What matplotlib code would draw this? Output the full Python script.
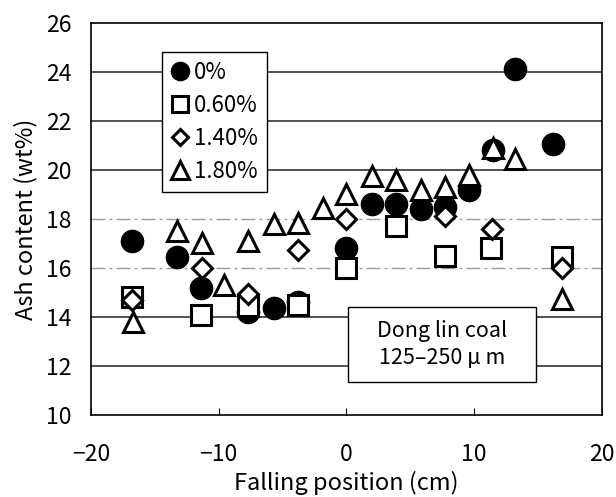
import matplotlib

matplotlib.use("Agg")
import matplotlib.pyplot as plt  # noqa: E402
from matplotlib.patches import Rectangle  # noqa: E402

plt.rcParams["font.family"] = ["Noto Sans CJK JP", "DejaVu Sans"]

# Ash content of the collected fractions, by falling position and additive dose
x_0 = [-16.8, -13.3, -11.4, -7.7, -5.7, -3.8, 0.0, 2.0, 3.9, 5.8, 7.7, 9.6, 11.5, 13.2, 16.2]
y_0 = [17.1, 16.45, 15.2, 14.2, 14.35, 14.6, 16.8, 18.6, 18.6, 18.4, 18.5, 19.2, 20.8, 24.1, 21.05]

x_060 = [-16.8, -11.4, -7.7, -3.8, 0.0, 3.9, 7.7, 11.3, 16.9]
y_060 = [14.8, 14.1, 14.45, 14.5, 16.0, 17.7, 16.5, 16.8, 16.45]

x_140 = [-16.8, -11.3, -7.7, -3.8, 0.0, 7.7, 11.4, 16.9]
y_140 = [14.7, 16.0, 14.95, 16.75, 18.0, 18.1, 17.6, 16.0]

x_180 = [-16.7, -13.3, -11.3, -9.6, -7.7, -5.7, -3.8, -1.8, 0.0, 2.0, 3.9, 5.8, 7.7, 9.6, 11.5, 13.2, 16.9]
y_180 = [13.8, 17.5, 17.0, 15.3, 17.1, 17.8, 17.85, 18.45, 19.0, 19.75, 19.6, 19.2, 19.3, 19.8, 20.9, 20.45, 14.75]

labels = ["0%", "0.60%", "1.40%", "1.80%"]
y_ticks = [10, 12, 14, 16, 18, 20, 22, 24, 26]
x_ticks = [-20, -10, 0, 10, 20]

fig = plt.figure(figsize=(6.16, 4.97), dpi=100)
ax = fig.add_axes([0.1477, 0.165, 0.8295, 0.789])

# horizontal grid, the two middle lines are fainter and broken
for y in y_ticks[1:-1]:
    if y in (16, 18):
        ax.axhline(y, color="#9a9a9a", lw=1.0, ls=(0, (10, 3, 2, 3)), zorder=0)
    else:
        ax.axhline(y, color="#222222", lw=1.1, zorder=0)

open_kw = dict(ls="none", mfc="white", mec="black", mew=2.2)
h180, = ax.plot(x_180, y_180, marker="^", ms=15, zorder=3, **open_kw)
h0, = ax.plot(x_0, y_0, marker="o", ms=16, color="black", ls="none", zorder=2)
h060, = ax.plot(x_060, y_060, marker="s", ms=14, zorder=4, **open_kw)
h140, = ax.plot(x_140, y_140, marker="D", ms=10, zorder=5, **open_kw)

leg = ax.legend([h0, h060, h140, h180], labels,
                loc="upper left", bbox_to_anchor=(0.139, 0.926), borderaxespad=0,
                fancybox=False, framealpha=1, edgecolor="black", fontsize=16,
                handlelength=0.8, handletextpad=0.25, labelspacing=0.45,
                borderpad=0.4, markerscale=0.82)
leg.get_frame().set_linewidth(1.0)
leg.set_zorder(10)

# sample description box
ax.add_patch(Rectangle((0.503, 0.084), 0.368, 0.1915, transform=ax.transAxes,
                       fc="white", ec="black", lw=1.0, zorder=8))
ax.text(0.687, 0.18, "Dong lin coal\n125\u2013250 \u03bc m", transform=ax.transAxes,
        ha="center", va="center", fontsize=15.5, linespacing=1.3, zorder=9)

ax.set_xlim(-20, 20)
ax.set_ylim(10, 26)
ax.set_xticks(x_ticks)
ax.set_xticklabels(["\u221220", "\u221210", "0", "10", "20"])
ax.set_yticks(y_ticks)
ax.tick_params(axis="x", direction="in", length=5, labelsize=16.5, pad=20)
ax.tick_params(axis="y", length=0, labelsize=16.5, pad=14)
for s in ax.spines.values():
    s.set_linewidth(1.2)

ax.set_xlabel("Falling position (cm)", fontsize=17, labelpad=4)
ax.set_ylabel("Ash content (wt%)", fontsize=17, labelpad=6)

fig.savefig("out.png", dpi=100)
